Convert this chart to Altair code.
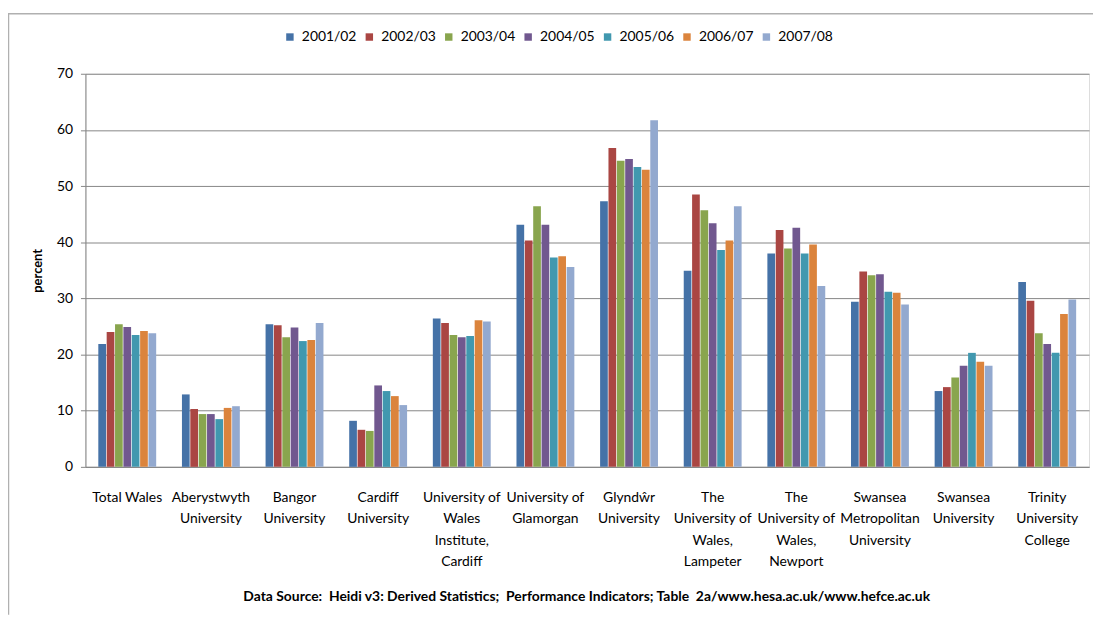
import altair as alt
import pandas as pd

categories = [
    "Total Wales", "Aberystwyth University", "Bangor University", "Cardiff University",
    "University of Wales Institute, Cardiff", "University of Glamorgan", "Glyndŵr University",
    "The University of Wales, Lampeter", "The University of Wales, Newport",
    "Swansea Metropolitan University", "Swansea University", "Trinity University College",
]
label_lines = [
    ["Total Wales"], ["Aberystwyth", "University"], ["Bangor", "University"], ["Cardiff", "University"],
    ["University of", "Wales", "Institute,", "Cardiff"], ["University of", "Glamorgan"],
    ["Glyndŵr", "University"], ["The", "University of", "Wales,", "Lampeter"],
    ["The", "University of", "Wales,", "Newport"], ["Swansea", "Metropolitan", "University"],
    ["Swansea", "University"], ["Trinity", "University", "College"],
]
years = ["2001/02", "2002/03", "2003/04", "2004/05", "2005/06", "2006/07", "2007/08"]
colors = ["#4572A7", "#AA4643", "#89A54E", "#71588F", "#4198AF", "#DB843D", "#93A9CF"]

v_2001 = [21.9, 12.9, 25.4, 8.2, 26.4, 43.1, 47.3, 34.9, 38.0, 29.4, 13.5, 32.9]
v_2002 = [24.0, 10.3, 25.2, 6.6, 25.6, 40.3, 56.8, 48.5, 42.2, 34.8, 14.2, 29.6]
v_2003 = [25.4, 9.4, 23.1, 6.4, 23.5, 46.4, 54.5, 45.7, 38.9, 34.1, 15.9, 23.8]
v_2004 = [24.9, 9.4, 24.8, 14.5, 23.1, 43.1, 54.8, 43.4, 42.6, 34.3, 18.0, 21.9]
v_2005 = [23.5, 8.5, 22.4, 13.5, 23.3, 37.3, 53.4, 38.6, 38.0, 31.2, 20.3, 20.3]
v_2006 = [24.2, 10.5, 22.6, 12.6, 26.1, 37.5, 52.9, 40.3, 39.6, 31.0, 18.7, 27.2]
v_2007 = [23.8, 10.8, 25.6, 11.0, 25.9, 35.6, 61.7, 46.4, 32.2, 28.9, 18.0, 29.8]
series = [v_2001, v_2002, v_2003, v_2004, v_2005, v_2006, v_2007]

footer = ("Data Source:\u00a0 Heidi v3: Derived Statistics;\u00a0 Performance Indicators; "
          "Table\u00a0 2a/www.hesa.ac.uk/www.hefce.ac.uk")

labels = ["|".join(l) for l in label_lines]
rows = []
for yr, vals in zip(years, series):
    for lab, v in zip(labels, vals):
        rows.append({"inst": lab, "year": yr, "value": v})
df = pd.DataFrame(rows)

FONT = "Lato"
W, H = 1011, 396

bars = alt.Chart(df).mark_bar().encode(
    x=alt.X("inst:N", sort=labels,
            scale=alt.Scale(paddingInner=0.308, paddingOuter=0.154),
            axis=alt.Axis(title=None, labelAngle=0, labelExpr="split(datum.value, '|')",
                          labelFont=FONT, labelFontSize=14, labelLineHeight=21.5,
                          labelColor="#000000", labelPadding=24, labelBaseline="top",
                          ticks=False, domainColor="#868686", labelLimit=200)),
    xOffset=alt.XOffset("year:N", sort=years,
                        scale=alt.Scale(paddingInner=0.08, paddingOuter=0)),
    y=alt.Y("value:Q", scale=alt.Scale(domain=[0, 70]),
            axis=alt.Axis(values=[0, 10, 20, 30, 40, 50, 60, 70], title="percent",
                          titleFont=FONT, titleFontSize=13, titleFontWeight="bold",
                          titleColor="#000000", titleX=-48, titleY=H / 2, titleAngle=270,
                          titleBaseline="middle", titleAlign="center",
                          labelFont=FONT, labelFontSize=14, labelColor="#000000",
                          labelPadding=8, tickSize=5, tickColor="#868686",
                          domainColor="#868686", gridColor="#868686", gridWidth=1)),
    color=alt.Color("year:N", sort=years, scale=alt.Scale(domain=years, range=colors),
                    legend=alt.Legend(title=None, orient="none", direction="horizontal",
                                      legendX=199, legendY=-44, symbolType="square",
                                      symbolSize=56, symbolStrokeWidth=0, labelFont=FONT,
                                      labelFontSize=14, labelColor="#000000", labelOffset=5,
                                      columnPadding=5, padding=0)),
)

one = pd.DataFrame({"a": [0]})
frame_left = alt.Chart(one).mark_rule(color="#b0b0b0", strokeWidth=1.5).encode(
    x=alt.value(-77.5), y=alt.value(-61), y2=alt.value(545))
frame_top = alt.Chart(one).mark_rule(color="#b0b0b0", strokeWidth=1.5).encode(
    x=alt.value(-78), x2=alt.value(1020), y=alt.value(-60.5))
foot = alt.Chart(one).mark_text(text=footer, font=FONT, fontSize=14, fontWeight="bold",
                                color="#000000", align="center", baseline="middle").encode(
    x=alt.value(505), y=alt.value(527))

chart = alt.layer(bars, frame_left, frame_top, foot).properties(
    width=W, height=H,
    autosize=alt.AutoSizeParams(type="none"),
    padding={"left": 78, "top": 64, "right": 4, "bottom": 149},
).configure_view(stroke=None).configure(background="white")

chart.save("out.html", embed_options={"renderer": "svg", "actions": False})
